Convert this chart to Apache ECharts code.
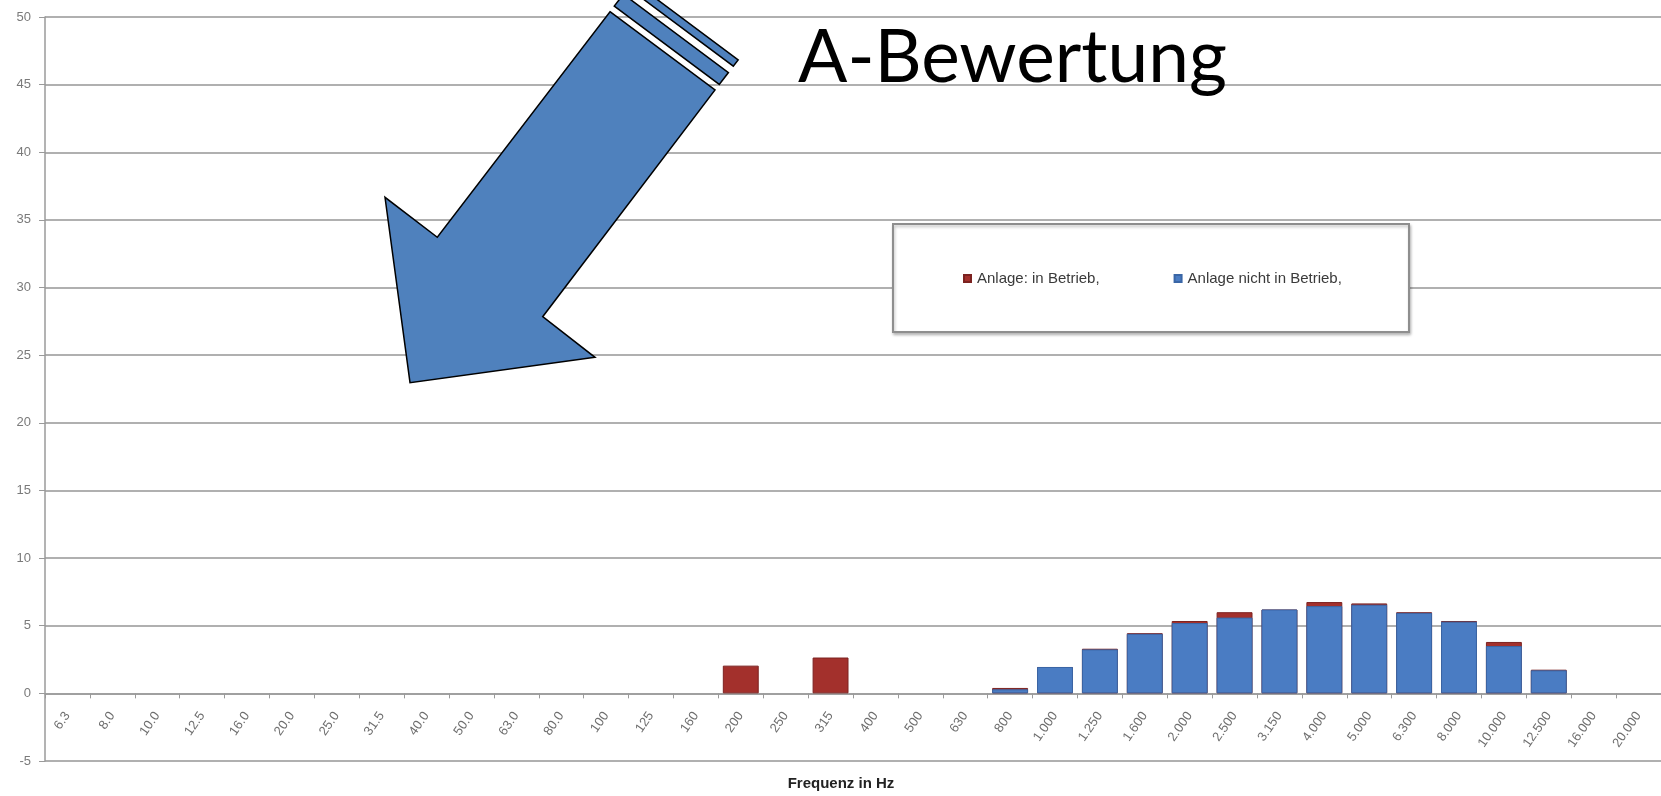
<!DOCTYPE html>
<html>
<head>
<meta charset="utf-8">
<script src="https://cdn.jsdelivr.net/npm/echarts@6/dist/echarts.min.js"></script>
<style>
  html, body { margin: 0; padding: 0; background: #ffffff; }
  #chart { width: 1661px; height: 796px; }
</style>
</head>
<body>
<div id="chart"></div>
<script>
// Third-octave band centre frequencies (German number format)
const categories = ['6.3', '8.0', '10.0', '12.5', '16.0', '20.0', '25.0', '31.5', '40.0', '50.0',
  '63.0', '80.0', '100', '125', '160', '200', '250', '315', '400', '500', '630', '800',
  '1.000', '1.250', '1.600', '2.000', '2.500', '3.150', '4.000', '5.000', '6.300', '8.000',
  '10.000', '12.500', '16.000', '20.000'];

// A-weighted band levels, plant running
const inBetrieb = [null, null, null, null, null, null, null, null, null, null,
  null, null, null, null, null, 2.05, null, 2.65, null, null, null, 0.4,
  1.95, 3.3, 4.45, 5.35, 6.0, 6.2, 6.75, 6.65, 6.0, 5.35,
  3.8, 1.75, null, null];

// A-weighted band levels, plant switched off
const nichtInBetrieb = [null, null, null, null, null, null, null, null, null, null,
  null, null, null, null, null, null, null, null, null, null, null, 0.3,
  1.95, 3.25, 4.4, 5.2, 5.6, 6.2, 6.45, 6.55, 5.95, 5.3,
  3.5, 1.7, null, null];

const seriesNames = ['Anlage: in Betrieb,', 'Anlage nicht in Betrieb,'];
const yMin = -5, yMax = 50, yStep = 5;

const RED = '#a3302c';
const BLUE = '#4a7cc3';
const ARROW_BLUE = '#4f81bd';

// Plot area; the category axis sits on the zero line, one step above the bottom edge
const CHART_H = 796;
const GRID = { left: 45, top: 17, right: -14, bottom: 35 };
const plotH = CHART_H - GRID.top - GRID.bottom;
const zeroOffset = -(0 - yMin) / (yMax - yMin) * plotH;

// Block arrow with two tail stripes, pointing down-left
const arrowShaft = [[610, 11.7], [715, 90], [542.7, 316.7], [595, 357.3],
  [410, 382.7], [385, 197.3], [437.3, 237.3]];
function tailStripe(d1, d2) {
  const ux = 0.6096, uy = -0.7928;
  const L = arrowShaft[0], R = arrowShaft[1];
  return [[L[0] + ux * d1, L[1] + uy * d1], [R[0] + ux * d1, R[1] + uy * d1],
          [R[0] + ux * d2, R[1] + uy * d2], [L[0] + ux * d2, L[1] + uy * d2]];
}
const arrowStyle = { fill: ARROW_BLUE, stroke: '#000000', lineWidth: 1.5 };

const chart = echarts.init(document.getElementById('chart'), null, { renderer: 'canvas' });

chart.setOption({
  animation: false,
  backgroundColor: '#ffffff',
  grid: { left: GRID.left, top: GRID.top, right: GRID.right, bottom: GRID.bottom, containLabel: false },
  legend: {
    left: 963,
    top: 271,
    padding: 0,
    itemWidth: 7,
    itemHeight: 7,
    itemGap: 74,
    icon: 'rect',
    z: 20,
    textStyle: { fontFamily: 'Liberation Sans', fontSize: 15, color: '#3a3a3a', padding: [0, 0, 0, 1] },
    data: seriesNames
  },
  xAxis: {
    type: 'category',
    data: categories,
    boundaryGap: true,
    position: 'bottom',
    offset: zeroOffset,
    axisLine: { onZero: false, lineStyle: { color: '#9a9a9a', width: 1.5 } },
    axisTick: { show: true, length: 5, inside: false, lineStyle: { color: '#9a9a9a', width: 1 } },
    axisLabel: {
      interval: 0,
      rotate: 55,
      margin: 20,
      fontFamily: 'Liberation Sans',
      fontSize: 13,
      color: '#6e6e6e'
    },
    splitLine: { show: false }
  },
  yAxis: {
    type: 'value',
    min: yMin,
    max: yMax,
    interval: yStep,
    axisLine: { show: true, lineStyle: { color: '#9a9a9a', width: 1.5 } },
    axisTick: { show: true, length: 6, lineStyle: { color: '#9a9a9a' } },
    axisLabel: { margin: 14, fontFamily: 'Liberation Sans', fontSize: 13, color: '#7a7a7a' },
    splitLine: { show: true, lineStyle: { color: '#b0b0b0', width: 2 } }
  },
  series: [
    {
      name: seriesNames[0],
      type: 'bar',
      data: inBetrieb,
      barGap: '-100%',
      barCategoryGap: '20%',
      itemStyle: { color: RED, borderColor: '#7c2220', borderWidth: 1 },
      z: 2
    },
    {
      name: seriesNames[1],
      type: 'bar',
      data: nichtInBetrieb,
      barGap: '-100%',
      barCategoryGap: '20%',
      itemStyle: { color: BLUE, borderColor: '#3a66a6', borderWidth: 1 },
      z: 3
    }
  ],
  graphic: [
    {
      type: 'rect',
      z: 10,
      shape: { x: 893, y: 224, width: 516, height: 108 },
      style: {
        fill: '#ffffff', stroke: '#8e8e8e', lineWidth: 2,
        shadowBlur: 3, shadowOffsetX: 1, shadowOffsetY: 2, shadowColor: 'rgba(0,0,0,0.25)'
      }
    },
    {
      type: 'text',
      z: 30,
      x: 841,
      y: 784,
      style: {
        text: 'Frequenz in Hz',
        fontFamily: 'Liberation Sans',
        fontWeight: 'bold',
        fontSize: 15,
        fill: '#222222',
        align: 'center',
        verticalAlign: 'middle'
      }
    },
    { type: 'polygon', z: 40, shape: { points: tailStripe(30, 38) }, style: arrowStyle },
    { type: 'polygon', z: 40, shape: { points: tailStripe(7, 22) }, style: arrowStyle },
    { type: 'polygon', z: 40, shape: { points: arrowShaft }, style: arrowStyle },
    {
      type: 'text',
      z: 40,
      x: 798,
      y: 58,
      style: {
        text: 'A-Bewertung',
        fontFamily: 'Lato',
        fontSize: 73,
        fill: '#000000',
        align: 'left',
        verticalAlign: 'middle'
      }
    }
  ]
});
</script>
</body>
</html>
